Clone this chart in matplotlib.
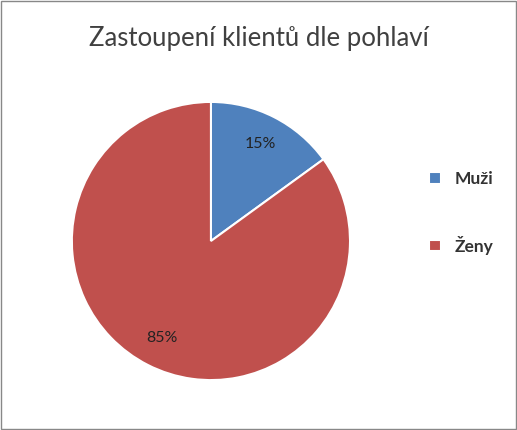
import matplotlib.pyplot as plt
from matplotlib.patches import Rectangle

labels = ["Muži", "Ženy"]
values = [15, 85]
colors = ["#4F81BD", "#C0504D"]

plt.rcParams["font.family"] = ["Lato", "DejaVu Sans"]

fig = plt.figure(figsize=(5.17, 4.30), dpi=100)
fig.patches.append(Rectangle((0.002, 0.002), 0.996, 0.996, transform=fig.transFigure,
                             fill=False, edgecolor="#888888", linewidth=1))

ax = fig.add_axes([0.139, 0.116, 0.538, 0.647])
wedges, texts, autotexts = ax.pie(
    values, colors=colors, startangle=90, counterclock=False,
    autopct="%d%%", pctdistance=0.78,
    wedgeprops=dict(edgecolor="white", linewidth=1.5),
    textprops=dict(fontsize=11.5, color="#222222"))
ax.set_xlim(-1, 1)
ax.set_ylim(-1, 1)
ax.set_aspect("equal")

fig.text(0.5, 0.91, "Zastoupení klientů dle pohlaví", ha="center", va="center",
         fontsize=18.5, color="#404040")

fig.legend(wedges, labels, loc="center left", bbox_to_anchor=(0.8, 0.505),
           frameon=False, handlelength=0.65, handleheight=0.65, labelspacing=2.8,
           prop=dict(size=12.5, weight="bold"), labelcolor="#333333")

fig.savefig("out.png", dpi=100)
